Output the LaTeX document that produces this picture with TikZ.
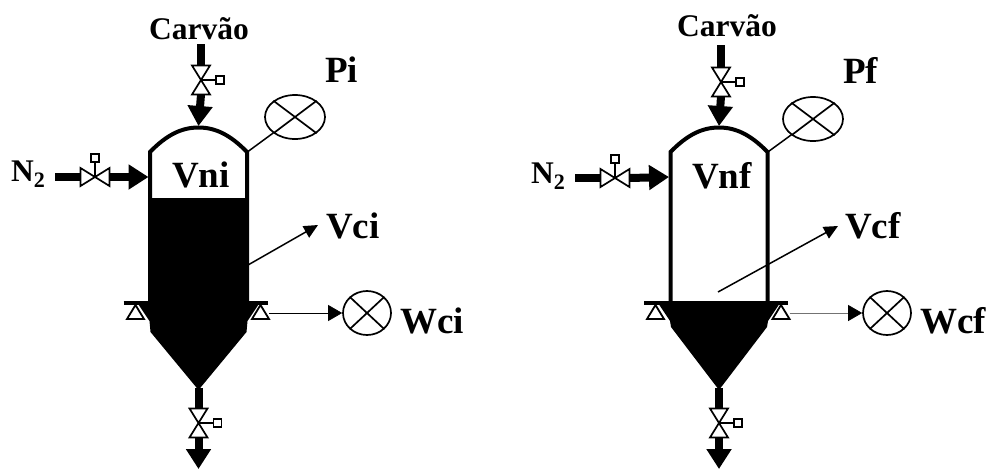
\documentclass[tikz,border=0pt]{standalone}
\usepackage{fontspec}
\setmainfont{Liberation Serif}
\usetikzlibrary{arrows.meta,shapes.geometric}
\begin{document}
\begin{tikzpicture}[x=1pt,y=-1pt,
  pipe/.style = {line width=8pt},
  flow/.style = {line width=8pt, -{Triangle[length=20pt,width=24pt]}},
  wall/.style = {line width=4pt},
  lead/.style = {line width=1.5pt},
  signal/.style = {line width=1.5pt, -{Triangle[length=14pt,width=13pt]}},
  weigh/.style = {line width=.7pt, -{Triangle[length=14pt,width=16pt,black]}},
  gauge/.style = {shape=ellipse, draw, line width=1.7pt, inner sep=0pt,
    minimum width=60pt, minimum height=44pt},
  scale dial/.style = {gauge, minimum width=48pt},
  handle/.style = {shape=rectangle, draw, line width=1.8pt, fill=white,
    inner sep=0pt, minimum size=8pt},
  big/.style = {font=\fontsize{37}{37}\selectfont\bfseries, inner sep=0pt, anchor=base west},
  small/.style = {font=\fontsize{31.5}{32}\selectfont\bfseries, inner sep=0pt, anchor=base west},
  pics/valve/.style = {code={
    \draw[line width=1.7pt, fill=white] (-9,-14.5) -- (9,-14.5) -- (-9,14.5) -- (9,14.5) -- cycle;
    \node[handle] (-knob) at (19,0) {};
    \draw[line width=1.7pt] (0,0) -- (-knob);
    \coordinate (-in) at (0,-14.5);
    \coordinate (-out) at (0,14.5);}},
  pics/cell/.style = {code={
    \draw[line width=1.8pt, fill=white] (0,-7) -- (8.5,7) -- (-8.5,7) -- cycle;
    \coordinate (-out) at (8.5,1);}},
  pics/hopper/.style = {code={
    \fill (-61,0) -- (-49,18) -- (-48,#1) -- (0,87) -- (48,#1) -- (49,18) -- (61,0) -- cycle;
    \draw[wall] (-48.5,-1) -- (-48.5,-151) .. controls (-32,-168) and (-17,-175.5) .. (0,-175.5)
      .. controls (17,-175.5) and (32,-168) .. (48.5,-151) -- (48.5,-1);
    \draw[line width=3.5pt] (-75,0) -- (69,0);
    \coordinate (-top) at (0,-177);
    \coordinate (-side) at (-50,-126);
    \coordinate (-shoulder) at (49.5,-151.5);
    \coordinate (-wall) at (49.5,-38);
    \coordinate (-apex) at (0,85);}}]
  \useasboundingbox (0,0) rectangle (990,469);

  \pic (hi) at (198.5,303) {hopper=29};
  \fill (150,198) rectangle (247,303);
  \pic (hf) at (719,303) {hopper=24};

  \coordinate (ci) at (201,44);
  \coordinate (ni) at (55,177);
  \coordinate (di) at (198.5,469);
  \pic (vci) at (201,80) {valve};
  \pic[rotate=90] (vni) at (95,177) {valve};
  \pic (vdi) at (198.5,423) {valve};
  \draw[pipe] (ci) -- (vci-in);
  \draw[flow] (vci-out) -- (hi-top);
  \draw[pipe] (ni) -- (vni-in);
  \draw[flow] (vni-out) -- (hi-side);
  \draw[pipe] (hi-apex) -- (vdi-in);
  \draw[flow] (vdi-out) -- (di);

  \coordinate (cf) at (721,45);
  \coordinate (nf) at (575,178);
  \coordinate (df) at (719,469);
  \pic (vcf) at (721,82) {valve};
  \pic[rotate=90] (vnf) at (615,178) {valve};
  \pic (vdf) at (719,423) {valve};
  \draw[pipe] (cf) -- (vcf-in);
  \draw[flow] (vcf-out) -- (hf-top);
  \draw[pipe] (nf) -- (vnf-in);
  \draw[flow] (vnf-out) -- (hf-side);
  \draw[pipe] (hf-apex) -- (vdf-in);
  \draw[flow] (vdf-out) -- (df);

  \node[gauge] (gPi) at (295,117) {};
  \node[gauge] (gPf) at (813,119) {};
  \node[scale dial] (gWi) at (367,313) {};
  \node[scale dial] (gWf) at (887,313) {};
  \foreach \g/\a in {gPi/37,gPf/37,gWi/43,gWf/43} {
    \draw[line width=1.7pt] (\g.\a) -- (\g.\a+180);
    \draw[line width=1.7pt] (\g.180-\a) -- (\g.-\a);
  }
  \draw[lead] (hi-shoulder) -- (gPi);
  \draw[lead] (hf-shoulder) -- (gPf);

  \pic (lil) at (135.5,312) {cell};
  \pic (lir) at (260.5,312) {cell};
  \pic (lfl) at (655.5,312) {cell};
  \pic (lfr) at (781,312) {cell};
  \draw[weigh] (lir-out) -- (gWi);
  \draw[weigh, draw=black!55] (lfr-out) -- (gWf);

  \coordinate (ti) at (318,225);
  \coordinate (tf) at (838,226);
  \coordinate (sf) at (718,292);
  \draw[signal] (hi-wall) -- (ti);
  \draw[signal] (sf) -- (tf);

  \node[small] (lblCarvaoi) at (149,39) {Carvão};
  \node[small] (lblCarvaof) at (677,36) {Carvão};
  \node[small] (lblNi) at (11,181) {N\textsubscript{2}};
  \node[small] (lblNf) at (531,183) {N\textsubscript{2}};
  \node[big] (lblVni) at (172,187) {Vni};
  \node[big] (lblVnf) at (692,188) {Vnf};
  \node[big] (lblPi) at (325,82) {Pi};
  \node[big] (lblPf) at (843,83) {Pf};
  \node[big] (lblVci) at (326,238) {Vci};
  \node[big] (lblVcf) at (845,238) {Vcf};
  \node[big] (lblWci) at (400,333) {Wci};
  \node[big] (lblWcf) at (920,333) {Wcf};
\end{tikzpicture}
\end{document}
